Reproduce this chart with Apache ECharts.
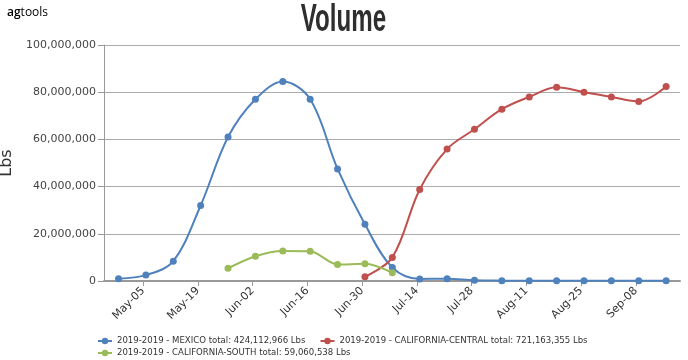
<!DOCTYPE html>
<html>
<head>
<meta charset="utf-8">
<script src="https://cdn.jsdelivr.net/npm/echarts@6/dist/echarts.min.js"></script>
<style>
html,body{margin:0;padding:0;background:#fff;}
#chart{width:688px;height:360px;}
</style>
</head>
<body>
<div id="chart"></div>
<script>
// Week dates (Sundays) for each series
const mexicoDates = ['2019-04-28','2019-05-05','2019-05-12','2019-05-19','2019-05-26','2019-06-02','2019-06-09','2019-06-16','2019-06-23','2019-06-30','2019-07-07','2019-07-14','2019-07-21','2019-07-28','2019-08-04','2019-08-11','2019-08-18','2019-08-25','2019-09-01','2019-09-08','2019-09-15'];
const mexicoValues = [1000000,2500000,8400000,32000000,61000000,77000000,84500000,77000000,47500000,24000000,5700000,900000,1000000,300000,150000,120000,120000,120000,120000,120000,120000];

const centralDates = ['2019-06-30','2019-07-07','2019-07-14','2019-07-21','2019-07-28','2019-08-04','2019-08-11','2019-08-18','2019-08-25','2019-09-01','2019-09-08','2019-09-15'];
const centralValues = [1800000,10000000,38800000,55900000,64300000,72800000,78000000,82100000,80000000,78000000,76100000,82400000];

const southDates = ['2019-05-26','2019-06-02','2019-06-09','2019-06-16','2019-06-23','2019-06-30','2019-07-07'];
const southValues = [5400000,10500000,12700000,12600000,7000000,7300000,3500000];

const seriesNames = ['2019-2019 - MEXICO total: 424,112,966 Lbs','2019-2019 - CALIFORNIA-CENTRAL total: 721,163,355 Lbs','2019-2019 - CALIFORNIA-SOUTH total: 59,060,538 Lbs'];
const tickDates = ['2019-05-05','2019-05-19','2019-06-02','2019-06-16','2019-06-30','2019-07-14','2019-07-28','2019-08-11','2019-08-25','2019-09-08'];
const monthNames = ['Jan','Feb','Mar','Apr','May','Jun','Jul','Aug','Sep','Oct','Nov','Dec'];
const colors = ['#4F81BD','#C0504D','#9BBB59'];

const POINT_SHIFT = 17 * 3600 * 1000; // points sit slightly after the week tick
function ts(s){ const p = s.split('-'); return Date.UTC(+p[0], +p[1]-1, +p[2]); }
function pairs(d, v){ return d.map((x,i)=>[ts(x)+POINT_SHIFT, v[i]]); }
function fmtDate(val){ const d = new Date(val); const dd = d.getUTCDate(); return monthNames[d.getUTCMonth()] + '-' + (dd<10?'0':'') + dd; }

const chart = echarts.init(document.getElementById('chart'), null, {renderer:'canvas'});
const mk = (name, data, color, smooth) => ({
  name, type:'line', data, smooth, symbol:'circle', symbolSize:7,
  itemStyle:{color}, lineStyle:{color, width:2}, showSymbol:true, animation:false
});
const legendBase = {
  left:97, orient:'horizontal', padding:0,
  itemWidth:14, itemHeight:8, itemGap:14,
  textStyle:{fontFamily:'"DejaVu Sans Condensed", "DejaVu Sans", sans-serif', fontSize:9.5, color:'#333', lineHeight:12}
};

chart.setOption({
  animation:false,
  color: colors,
  graphic:[
    {type:'text', x:343.5, y:21, scaleX:0.635,
     style:{text:'Volume', font:'bold 38px "Liberation Sans", sans-serif', fill:'#2e2e2e', align:'center', verticalAlign:'middle'}},
    {type:'text', x:7, y:13,
     style:{text:'{a|ag}{b|tools}', verticalAlign:'middle',
       rich:{a:{fontFamily:'"Open Sans", sans-serif', fontSize:12, fontWeight:600, color:'#2a1a10'},
             b:{fontFamily:'"Open Sans", sans-serif', fontSize:12, color:'#5e3b2a'}}}}
  ],
  grid:{left:104, right:8, top:45, bottom:79, containLabel:false, outerBoundsMode:'none'},
  legend:[
    Object.assign({}, legendBase, {top:335, data: [seriesNames[0], seriesNames[1]]}),
    Object.assign({}, legendBase, {top:347, data: [seriesNames[2]]})
  ],
  xAxis:{
    type:'value',
    min: ts('2019-04-25'),
    max: ts('2019-09-19') + 6*3600*1000,
    axisLine:{show:true, lineStyle:{color:'#999', width:2}},
    axisTick:{show:true, length:5, lineStyle:{color:'#999'}, customValues: tickDates.map(ts)},
    axisLabel:{show:true, rotate:45, margin:8, fontFamily:'"DejaVu Sans", sans-serif', fontSize:11, color:'#333',
      customValues: tickDates.map(ts), formatter: fmtDate},
    splitLine:{show:false}
  },
  yAxis:{
    type:'value', min:0, max:100000000, interval:20000000,
    name:'Lbs', nameLocation:'middle', nameGap:82, nameRotate:90,
    nameTextStyle:{fontFamily:'"DejaVu Sans", sans-serif', fontSize:16, color:'#333'},
    axisLine:{show:true, lineStyle:{color:'#999', width:1}},
    axisTick:{show:true, length:6, lineStyle:{color:'#999'}},
    axisLabel:{fontFamily:'"DejaVu Sans", sans-serif', fontSize:11, color:'#444', margin:8,
      formatter: v => v.toLocaleString('en-US')},
    splitLine:{show:true, lineStyle:{color:'#ababab', width:1}}
  },
  series:[
    mk(seriesNames[0], pairs(mexicoDates, mexicoValues), colors[0], 0.35),
    mk(seriesNames[1], pairs(centralDates, centralValues), colors[1], 0.35),
    mk(seriesNames[2], pairs(southDates, southValues), colors[2], 0.3)
  ]
});
</script>
</body>
</html>
